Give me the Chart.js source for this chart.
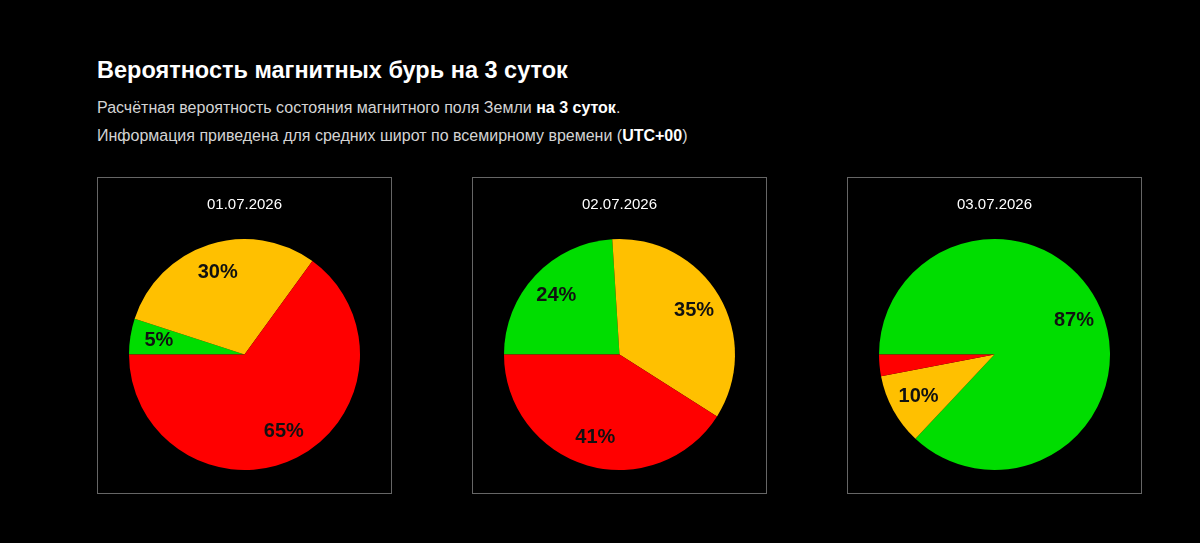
<!DOCTYPE html>
<html lang="ru">
<head>
<meta charset="utf-8">
<script src="https://cdn.jsdelivr.net/npm/chart.js@4"></script>
<style>
  body { margin: 0; background: #000; font-family: "Liberation Sans", Arial, sans-serif; }
  .page { position: relative; width: 1200px; height: 543px; }
  h1 { position: absolute; left: 97px; top: 57px; margin: 0; color: #fff; font-size: 23.5px; font-weight: bold; }
  .sub { position: absolute; left: 97px; margin: 0; color: #d4d4d4; font-size: 16px; }
  .sub b { color: #fff; }
  .box { position: absolute; top: 177px; width: 293px; height: 315px; border: 1px solid #666; }
</style>
</head>
<body>
<div class="page">
  <h1>Вероятность магнитных бурь на 3 суток</h1>
  <p class="sub" style="top:99px">Расчётная вероятность состояния магнитного поля Земли <b>на 3 суток</b>.</p>
  <p class="sub" style="top:127px">Информация приведена для средних широт по всемирному времени (<b>UTC+00</b>)</p>
  <div class="box" style="left:97px"><canvas id="c1"></canvas></div>
  <div class="box" style="left:472px"><canvas id="c2"></canvas></div>
  <div class="box" style="left:847px"><canvas id="c3"></canvas></div>
</div>
<script>
const dates = ["01.07.2026", "02.07.2026", "03.07.2026"];
const states = ["Спокойное", "Возмущённое", "Буря"];
const colors = ["#00dd00", "#ffc000", "#ff0000"];
const day1 = [5, 30, 65];
const day2 = [24, 35, 41];
const day3 = [87, 10, 3];

const pctLabels = {
  id: "pctLabels",
  afterDatasetsDraw(chart) {
    const ctx = chart.ctx;
    const data = chart.data.datasets[0].data;
    chart.getDatasetMeta(0).data.forEach((arc, i) => {
      if (data[i] < 5) return;
      const p = arc.getProps(["x", "y", "startAngle", "endAngle", "outerRadius"], true);
      const mid = (p.startAngle + p.endAngle) / 2;
      const r = p.outerRadius * 0.75;
      ctx.save();
      ctx.fillStyle = "#111";
      ctx.font = "bold 20px 'Liberation Sans', Arial, sans-serif";
      ctx.textAlign = "center";
      ctx.textBaseline = "middle";
      ctx.fillText(data[i] + "%", p.x + Math.cos(mid) * r, p.y + Math.sin(mid) * r);
      ctx.restore();
    });
  }
};

function drawPie(id, date, values) {
  const canvas = document.getElementById(id);
  canvas.width = 293;
  canvas.height = 315;
  new Chart(canvas, {
    type: "pie",
    data: {
      labels: states,
      datasets: [{ data: values, backgroundColor: colors, borderWidth: 0 }]
    },
    options: {
      responsive: false,
      animation: false,
      rotation: -90,
      layout: { padding: { left: 31, right: 31, top: 0, bottom: 23 } },
      plugins: {
        legend: { display: false },
        tooltip: { enabled: false },
        title: {
          display: true,
          text: date,
          color: "#fff",
          font: { family: "'Liberation Sans', Arial, sans-serif", size: 15, weight: "normal" },
          padding: { top: 18, bottom: 25 }
        }
      }
    },
    plugins: [pctLabels]
  });
}

drawPie("c1", dates[0], day1);
drawPie("c2", dates[1], day2);
drawPie("c3", dates[2], day3);
</script>
</body>
</html>
